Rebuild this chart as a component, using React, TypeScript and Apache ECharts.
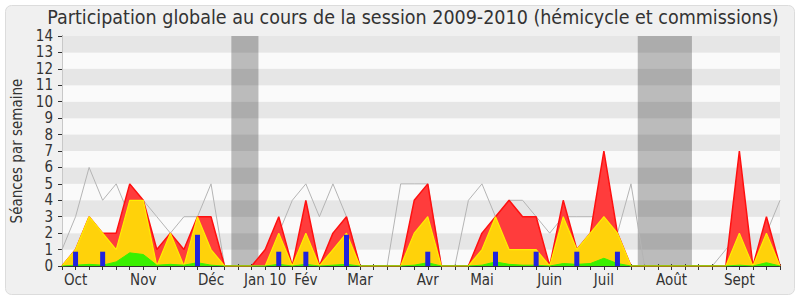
import React, { useEffect, useRef } from 'react';
import * as echarts from 'echarts';

// Weekly values, weeks 0..53 (Oct 2009 -> Sept 2010)
const medianPresence = [1, 3, 6, 4, 5, 3, 4, 3, 2, 3, 3, 5, 0, 0, 0, 1, 2, 4, 5, 3, 5, 3, 0, 0, 0, 5, 5, 5, 0, 0, 4, 5, 3, 4, 4, 3, 2, 3, 3, 3, 3, 2, 5, 0, 0, 0, 0, 0, 0, 1, 2, 0, 2, 4];
const commissionPresence = [0, 1, 3, 2, 2, 5, 4, 1, 2, 1, 3, 3, 0, 0, 0, 1, 3, 0, 4, 0, 2, 3, 0, 0, 0, 0, 4, 5, 0, 0, 0, 2, 3, 4, 3, 3, 0, 4, 1, 2, 7, 2, 0, 0, 0, 0, 0, 0, 0, 0, 7, 0, 3, 0];
const hemicyclePresence = [0, 1, 3, 2, 1, 4, 4, 0, 2, 0, 3, 1, 0, 0, 0, 0, 2, 0, 2, 0, 1, 2, 0, 0, 0, 0, 2, 3, 0, 0, 0, 1, 3, 1, 1, 1, 0, 3, 1, 2, 3, 2, 0, 0, 0, 0, 0, 0, 0, 0, 2, 0, 2, 0];
const interventions = [0, 0.05, 0.1, 0.05, 0.25, 0.8, 0.7, 0.05, 0.1, 0.05, 0.2, 0.05, 0, 0, 0, 0, 0.1, 0, 0.1, 0, 0.05, 0.1, 0, 0, 0, 0, 0.05, 0.2, 0, 0, 0, 0.05, 0.25, 0.1, 0.05, 0.05, 0, 0.15, 0.1, 0.15, 0.47, 0.15, 0, 0, 0, 0, 0, 0, 0, 0, 0.05, 0, 0.2, 0];
const questionWeeks = [1, 3, 10, 16, 18, 21, 27, 32, 35, 38, 41];
const questionValues = [0.87, 0.87, 1.9, 0.87, 0.87, 1.9, 0.87, 0.87, 0.87, 0.87, 0.87];
const monthWeeks = [1, 6, 11, 15, 18, 22, 27, 31, 36, 40, 45, 50];
const monthNames = ['Oct', 'Nov', 'Déc', 'Jan 10', 'Fév', 'Mar', 'Avr', 'Mai', 'Juin', 'Juil', 'Août', 'Sept'];
const vacationStart = [12.5, 42.5];
const vacationEnd = [14.5, 46.5];
const yTicks = [0, 14];

const FONT = '"DejaVu Sans Condensed", "DejaVu Sans", sans-serif';
const TEXT = '#333333';

const pairs = (arr: number[]) => arr.map((v, i) => [i, v]);

export default function App() {
  const ref = useRef<HTMLDivElement>(null);
  useEffect(() => {
    if (!ref.current) return;
    const chart = echarts.init(ref.current, undefined, { renderer: 'svg' });
    const lastWeek = medianPresence.length - 1;
    const option: any = {
      animation: false,
      backgroundColor: '#ffffff',
      graphic: [
        {
          type: 'rect',
          z: -10,
          silent: true,
          shape: { x: 5.5, y: 5.5, width: 789, height: 289, r: 6 },
          style: { fill: '#F0F0F0', stroke: '#DCDCDC', lineWidth: 1 },
        },
        {
          type: 'text',
          x: 413,
          y: 17.5,
          style: {
            text: 'Participation globale au cours de la session 2009-2010 (hémicycle et commissions)',
            font: `19.5px ${FONT}`,
            fill: TEXT,
            textAlign: 'center',
            textVerticalAlign: 'middle',
          },
        },
      ],
      grid: { left: 62, right: 20, top: 36, bottom: 34, containLabel: false, outerBoundsMode: 'none' },
      xAxis: [
        {
          type: 'value',
          min: 0,
          max: lastWeek,
          interval: 1,
          axisLine: { show: true, lineStyle: { color: '#333', width: 1 } },
          axisTick: { show: true, length: 4, lineStyle: { color: '#333' } },
          splitLine: { show: false },
          axisLabel: {
            margin: 6,
            fontFamily: FONT,
            fontSize: 15,
            color: TEXT,
            formatter: (v: number) => {
              const k = monthWeeks.indexOf(Math.round(v));
              return k >= 0 ? monthNames[k] : '';
            },
          },
        },
        {
          type: 'value',
          position: 'top',
          min: 0,
          max: lastWeek,
          interval: 1,
          axisLine: { show: false },
          axisTick: { show: true, length: 2, lineStyle: { color: '#444' } },
          splitLine: { show: false },
          axisLabel: { show: false },
        },
      ],
      yAxis: [
        {
          type: 'value',
          min: yTicks[0],
          max: yTicks[1],
          interval: 1,
          name: 'Séances par semaine',
          nameLocation: 'middle',
          nameRotate: 90,
          nameGap: 37,
          nameTextStyle: { fontFamily: FONT, fontSize: 15, color: TEXT },
          axisLine: { show: true, lineStyle: { color: '#333' } },
          axisTick: { show: true, length: 4, lineStyle: { color: '#333' } },
          axisLabel: { margin: 9, fontFamily: FONT, fontSize: 15, color: TEXT },
          splitLine: { show: false },
          splitArea: { show: true, areaStyle: { color: ['#FAFAFA', '#E6E6E6'] } },
        },
        {
          type: 'value',
          position: 'right',
          min: yTicks[0],
          max: yTicks[1],
          interval: 1,
          axisLine: { show: true, lineStyle: { color: '#C8C8C8' } },
          axisTick: { show: false },
          axisLabel: { show: false },
          splitLine: { show: false },
        },
      ],
      series: [
        {
          name: 'Médiane',
          type: 'line',
          data: pairs(medianPresence),
          showSymbol: false,
          z: 2,
          lineStyle: { color: '#B4B4B4', width: 1 },
          markArea: {
            silent: true,
            itemStyle: { color: 'rgba(0,0,0,0.25)' },
            label: { show: false },
            data: vacationStart.map((s, k) => [{ xAxis: s }, { xAxis: vacationEnd[k] }]),
          },
        },
        {
          name: 'Commission',
          type: 'line',
          data: pairs(commissionPresence),
          showSymbol: false,
          z: 3,
          lineStyle: { color: '#FF1010', width: 1.5 },
          areaStyle: { color: '#FF3C3C', opacity: 1 },
        },
        {
          name: 'Hémicycle',
          type: 'line',
          data: pairs(hemicyclePresence),
          showSymbol: false,
          z: 4,
          lineStyle: { color: '#FFEE00', width: 1.2 },
          areaStyle: { color: '#FFD20A', opacity: 1 },
        },
        {
          name: 'Interventions',
          type: 'line',
          data: pairs(interventions),
          showSymbol: false,
          z: 5,
          lineStyle: { color: '#3AF000', width: 1 },
          areaStyle: { color: '#3AF000', opacity: 1 },
        },
        {
          name: 'Questions',
          type: 'bar',
          data: questionWeeks.map((w, k) => [w, questionValues[k]]),
          barWidth: 5,
          z: 6,
          itemStyle: { color: '#2222DD' },
        },
      ],
    };
    chart.setOption(option);
    return () => chart.dispose();
  }, []);
  return <div ref={ref} style={{ position: 'absolute', left: 0, top: 0, width: 800, height: 300 }} />;
}
